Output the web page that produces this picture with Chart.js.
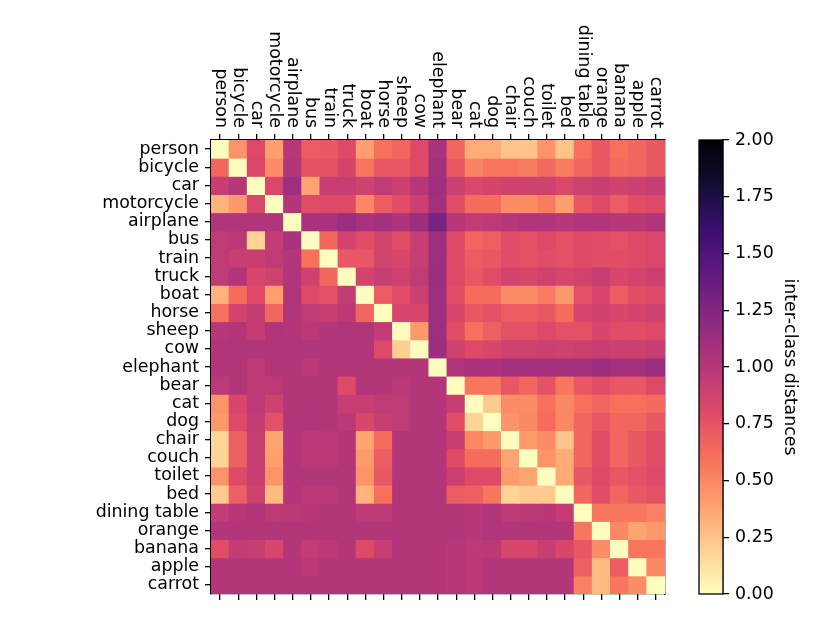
<!DOCTYPE html>
<html>
<head>
<meta charset="utf-8">
<title>Inter-class distances</title>
<script src="https://cdn.jsdelivr.net/npm/chart.js@4"></script>
<style>
  html, body { margin: 0; padding: 0; background: #fff; }
</style>
</head>
<body>
<canvas id="heatmap" width="830" height="623"></canvas>
<script>
// class names, same order on both axes
const classes = ['person', 'bicycle', 'car', 'motorcycle', 'airplane', 'bus', 'train', 'truck',
  'boat', 'horse', 'sheep', 'cow', 'elephant', 'bear', 'cat', 'dog', 'chair', 'couch',
  'toilet', 'bed', 'dining table', 'orange', 'banana', 'apple', 'carrot'];

// distance matrix, one row per class
const distances = [
  [0, 0.45, 0.8, 0.4, 1.0, 0.7, 0.72, 0.8, 0.4, 0.6, 0.65, 0.8, 1.07, 0.65, 0.35, 0.35, 0.25, 0.25, 0.45, 0.25, 0.6, 0.72, 0.6, 0.65, 0.72],
  [0.65, 0, 0.82, 0.48, 1.02, 0.75, 0.75, 0.85, 0.58, 0.73, 0.72, 0.8, 1.1, 0.72, 0.52, 0.58, 0.58, 0.55, 0.63, 0.55, 0.65, 0.72, 0.63, 0.65, 0.72],
  [0.92, 1.0, 0, 0.82, 1.12, 0.38, 0.92, 0.92, 0.88, 0.96, 0.9, 1.0, 1.12, 0.9, 0.82, 0.85, 0.87, 0.87, 0.88, 0.82, 0.88, 0.92, 0.87, 0.9, 0.92],
  [0.32, 0.43, 0.82, 0, 1.02, 0.78, 0.8, 0.8, 0.5, 0.7, 0.78, 0.9, 1.1, 0.78, 0.62, 0.62, 0.48, 0.48, 0.55, 0.4, 0.73, 0.8, 0.7, 0.78, 0.8],
  [1.03, 1.03, 1.03, 1.03, 0, 1.07, 1.07, 1.13, 1.07, 1.1, 1.05, 1.13, 1.3, 1.0, 0.95, 0.97, 1.0, 1.03, 1.03, 1.0, 1.03, 1.03, 1.0, 1.0, 1.03],
  [0.96, 0.98, 0.18, 0.94, 1.07, 0, 0.65, 0.86, 0.78, 0.86, 0.78, 0.92, 1.12, 0.8, 0.65, 0.68, 0.78, 0.76, 0.8, 0.76, 0.8, 0.78, 0.76, 0.8, 0.82],
  [0.96, 0.92, 0.92, 0.96, 1.02, 0.6, 0, 0.73, 0.73, 0.86, 0.83, 0.92, 1.12, 0.8, 0.7, 0.73, 0.78, 0.76, 0.78, 0.76, 0.8, 0.78, 0.78, 0.8, 0.82],
  [0.96, 1.03, 0.83, 0.88, 1.03, 0.88, 0.65, 0, 0.86, 0.92, 0.88, 0.96, 1.13, 0.8, 0.73, 0.78, 0.86, 0.83, 0.88, 0.83, 0.86, 0.92, 0.83, 0.86, 0.9],
  [0.32, 0.62, 0.8, 0.4, 1.03, 0.8, 0.76, 0.94, 0, 0.7, 0.78, 0.9, 1.12, 0.78, 0.62, 0.62, 0.48, 0.48, 0.55, 0.42, 0.76, 0.83, 0.7, 0.78, 0.8],
  [0.6, 0.86, 0.94, 0.65, 1.03, 0.96, 0.92, 0.98, 0.65, 0, 0.83, 0.83, 1.12, 0.83, 0.73, 0.76, 0.7, 0.7, 0.73, 0.62, 0.83, 0.88, 0.83, 0.86, 0.88],
  [1.0, 1.02, 0.94, 1.03, 1.02, 0.98, 1.02, 1.03, 1.03, 0.94, 0, 0.42, 1.12, 0.78, 0.6, 0.68, 0.76, 0.76, 0.8, 0.76, 0.76, 0.83, 0.78, 0.78, 0.8],
  [1.03, 1.03, 1.03, 1.03, 1.03, 1.03, 1.03, 1.03, 1.03, 0.8, 0.2, 0, 1.13, 0.88, 0.8, 0.83, 0.88, 0.88, 0.9, 0.88, 0.9, 0.92, 0.9, 0.9, 0.92],
  [1.02, 1.02, 0.97, 1.02, 1.02, 0.98, 1.02, 1.02, 1.02, 1.02, 1.02, 1.02, 0, 1.03, 1.07, 1.07, 1.1, 1.1, 1.1, 1.1, 1.1, 1.13, 1.1, 1.1, 1.13],
  [0.97, 1.02, 0.97, 0.97, 1.02, 1.02, 1.02, 0.8, 1.02, 1.02, 0.98, 1.02, 1.02, 0, 0.58, 0.58, 0.73, 0.65, 0.75, 0.58, 0.73, 0.78, 0.73, 0.73, 0.8],
  [0.45, 0.83, 0.97, 0.88, 1.02, 1.02, 1.02, 0.92, 0.92, 0.96, 0.96, 1.02, 1.02, 0.92, 0, 0.22, 0.48, 0.48, 0.6, 0.5, 0.6, 0.65, 0.6, 0.6, 0.63],
  [0.42, 0.8, 0.94, 0.76, 1.02, 1.03, 1.02, 0.98, 0.83, 0.92, 0.96, 1.02, 1.02, 0.78, 0.18, 0, 0.45, 0.5, 0.62, 0.5, 0.65, 0.73, 0.65, 0.65, 0.72],
  [0.17, 0.68, 0.92, 0.38, 1.02, 0.98, 0.98, 1.02, 0.38, 0.62, 1.02, 1.02, 1.02, 0.92, 0.5, 0.42, 0, 0.42, 0.48, 0.25, 0.65, 0.78, 0.65, 0.72, 0.78],
  [0.18, 0.68, 0.92, 0.4, 1.02, 0.98, 0.98, 1.02, 0.42, 0.7, 1.02, 1.02, 1.02, 0.8, 0.62, 0.62, 0.38, 0, 0.45, 0.35, 0.65, 0.78, 0.65, 0.72, 0.78],
  [0.45, 0.8, 0.92, 0.45, 1.02, 1.02, 1.02, 1.02, 0.45, 0.73, 1.02, 1.02, 1.02, 0.9, 0.8, 0.8, 0.42, 0.38, 0, 0.35, 0.73, 0.8, 0.73, 0.76, 0.8],
  [0.22, 0.68, 0.88, 0.28, 1.02, 0.98, 0.98, 1.02, 0.32, 0.6, 1.02, 1.02, 1.02, 0.7, 0.68, 0.58, 0.18, 0.22, 0.22, 0, 0.65, 0.78, 0.65, 0.72, 0.76],
  [0.94, 1.0, 1.03, 0.97, 0.98, 1.0, 1.02, 1.02, 0.97, 0.97, 1.02, 1.02, 1.02, 1.02, 1.0, 1.03, 0.97, 0.98, 1.0, 0.94, 0, 0.58, 0.58, 0.58, 0.53],
  [1.02, 1.02, 1.02, 1.02, 1.02, 1.02, 1.02, 1.02, 1.02, 1.02, 1.02, 1.02, 1.02, 1.02, 1.0, 1.03, 1.02, 1.02, 1.02, 1.02, 0.58, 0, 0.5, 0.38, 0.43],
  [0.78, 0.94, 0.92, 0.83, 1.02, 0.94, 0.98, 1.02, 0.8, 0.92, 1.02, 1.02, 1.02, 1.0, 0.97, 0.98, 0.83, 0.83, 0.92, 0.83, 0.73, 0.48, 0, 0.58, 0.58],
  [1.02, 1.02, 1.02, 1.02, 1.02, 0.98, 1.02, 1.02, 1.02, 1.02, 1.02, 1.02, 1.02, 1.0, 0.98, 1.02, 1.02, 1.02, 1.02, 1.02, 0.68, 0.28, 0.7, 0, 0.5],
  [1.02, 1.02, 1.02, 1.02, 1.02, 1.02, 1.02, 1.02, 1.02, 1.02, 1.02, 1.02, 1.02, 1.0, 0.98, 1.02, 1.02, 1.02, 1.02, 1.02, 0.53, 0.28, 0.58, 0.48, 0]
];

// colour scale range and colorbar ticks
const vmin = 0;
const vmax = 2;
const cbTicks = [0, 0.25, 0.5, 0.75, 1.0, 1.25, 1.5, 1.75, 2.0];

// magma, sampled every 10%
const magma = ['#000004', '#140e36', '#3b0f70', '#641a80', '#8c2981', '#b73779',
  '#de4968', '#f7705c', '#fe9f6d', '#fecf92', '#fcfdbf'];

function hexToRgb(h) {
  return [1, 3, 5].map(i => parseInt(h.substr(i, 2), 16));
}

// reversed magma: 0 -> pale yellow, 2 -> black
function cellColor(v) {
  let t = 1 - (v - vmin) / (vmax - vmin);
  t = Math.max(0, Math.min(1, t));
  const pos = t * (magma.length - 1);
  const i = Math.min(Math.floor(pos), magma.length - 2);
  const f = pos - i;
  const a = hexToRgb(magma[i]), b = hexToRgb(magma[i + 1]);
  const c = a.map((x, k) => Math.round(x + (b[k] - x) * f));
  return `rgb(${c[0]},${c[1]},${c[2]})`;
}

const FONT = { family: 'DejaVu Sans', size: 17.4 };
Chart.defaults.font.family = FONT.family;
Chart.defaults.font.size = FONT.size;
Chart.defaults.color = '#000';

const axisLine = { display: true, color: '#000', width: 1.3 };
const tickGrid = { drawOnChartArea: false, color: '#000', lineWidth: 1.3, tickLength: 6, offset: false };

// x labels on top read downwards, so they are drawn here from the x scale
const topLabels = {
  id: 'topLabels',
  afterDraw(chart) {
    const xs = chart.scales.x;
    const ctx = chart.ctx;
    ctx.save();
    ctx.font = `${FONT.size}px "${FONT.family}"`;
    ctx.fillStyle = '#000';
    ctx.textAlign = 'right';
    ctx.textBaseline = 'middle';
    classes.forEach((name, i) => {
      ctx.save();
      ctx.translate(xs.getPixelForValue(i), xs.bottom - 12);
      ctx.rotate(Math.PI / 2);
      ctx.fillText(name, 0, 0);
      ctx.restore();
    });
    ctx.restore();
  }
};

// gradient strip of the colorbar, placed against the colorbar axis
const colorbar = {
  id: 'colorbar',
  afterDraw(chart) {
    const cb = chart.scales.cb;
    const ctx = chart.ctx;
    const x1 = cb.left;
    const x0 = x1 - 24;
    const yTop = cb.getPixelForValue(vmax);
    const yBot = cb.getPixelForValue(vmin);
    const g = ctx.createLinearGradient(0, yBot, 0, yTop);
    for (let k = 0; k <= 40; k++) {
      g.addColorStop(k / 40, cellColor(vmin + (vmax - vmin) * k / 40));
    }
    ctx.save();
    ctx.fillStyle = g;
    ctx.fillRect(x0, yTop, x1 - x0, yBot - yTop);
    ctx.strokeStyle = '#000';
    ctx.lineWidth = 1.3;
    ctx.strokeRect(x0, yTop, x1 - x0, yBot - yTop);
    ctx.restore();
  }
};

const datasets = classes.map((name, r) => ({
  label: name,
  data: classes.map(() => 1),
  backgroundColor: distances[r].map(cellColor),
  borderWidth: 0,
  inflateAmount: 0.5,
  barPercentage: 1,
  categoryPercentage: 1
}));

new Chart(document.getElementById('heatmap'), {
  type: 'bar',
  data: { labels: classes, datasets: datasets },
  plugins: [topLabels, colorbar],
  options: {
    responsive: false,
    animation: false,
    devicePixelRatio: 1,
    layout: { padding: { left: 0, right: 26, top: 0, bottom: 0 } },
    plugins: { legend: { display: false }, tooltip: { enabled: false } },
    scales: {
      x: {
        type: 'category', position: 'top', stacked: true, offset: true,
        ticks: { display: false },
        grid: tickGrid,
        border: axisLine,
        afterFit: s => { s.height = 140; }
      },
      x2: {
        type: 'category', axis: 'x', position: 'bottom', offset: true, labels: classes,
        ticks: { display: false },
        grid: tickGrid,
        border: axisLine,
        afterFit: s => { s.height = 29; }
      },
      y: {
        type: 'linear', position: 'left', stacked: true, reverse: true,
        min: 0, max: classes.length,
        afterBuildTicks: s => { s.ticks = classes.map((_, i) => ({ value: i + 0.5 })); },
        ticks: { autoSkip: false, padding: 6, callback: (v, i) => classes[i] },
        grid: tickGrid,
        border: axisLine,
        afterFit: s => { s.width = 211; }
      },
      gap: {
        type: 'linear', axis: 'y', position: 'right', weight: 0, min: vmin, max: vmax,
        ticks: { display: false },
        grid: { drawOnChartArea: false, drawTicks: false },
        border: axisLine,
        afterFit: s => { s.width = 58; }
      },
      cb: {
        type: 'linear', axis: 'y', position: 'right', weight: 1, min: vmin, max: vmax,
        afterBuildTicks: s => { s.ticks = cbTicks.map(v => ({ value: v })); },
        ticks: { autoSkip: false, padding: 6, callback: v => v.toFixed(2) },
        grid: tickGrid,
        border: axisLine,
        title: { display: true, text: 'inter-class distances', font: FONT, color: '#000' },
        afterFit: s => { s.width = 81; }
      }
    }
  }
});
</script>
</body>
</html>
